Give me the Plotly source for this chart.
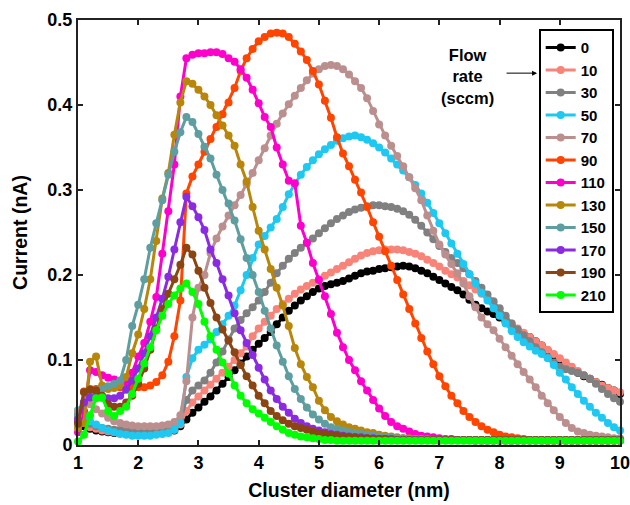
import plotly.graph_objects as go

diameter = [1.0, 1.1, 1.2, 1.3, 1.4, 1.5, 1.6, 1.7, 1.8, 1.9,
            2.0, 2.1, 2.2, 2.3, 2.4, 2.5, 2.6, 2.7, 2.8, 2.9,
            3.0, 3.1, 3.2, 3.3, 3.4, 3.5, 3.6, 3.7, 3.8, 3.9,
            4.0, 4.1, 4.2, 4.3, 4.4, 4.5, 4.6, 4.7, 4.8, 4.9,
            5.0, 5.1, 5.2, 5.3, 5.4, 5.5, 5.6, 5.7, 5.8, 5.9,
            6.0, 6.1, 6.2, 6.3, 6.4, 6.5, 6.6, 6.7, 6.8, 6.9,
            7.0, 7.1, 7.2, 7.3, 7.4, 7.5, 7.6, 7.7, 7.8, 7.9,
            8.0, 8.1, 8.2, 8.3, 8.4, 8.5, 8.6, 8.7, 8.8, 8.9,
            9.0, 9.1, 9.2, 9.3, 9.4, 9.5, 9.6, 9.7, 9.8, 9.9, 10.0]

flow_0 = [0.028, 0.022, 0.019, 0.017, 0.016, 0.015, 0.014, 0.014, 0.013, 0.013,
          0.013, 0.013, 0.013, 0.013, 0.014, 0.015, 0.017, 0.022, 0.030, 0.038,
          0.044, 0.051, 0.057, 0.064, 0.072, 0.080, 0.088, 0.096, 0.104, 0.112,
          0.119, 0.126, 0.133, 0.142, 0.150, 0.158, 0.164, 0.170, 0.175, 0.180,
          0.184, 0.187, 0.189, 0.191, 0.193, 0.196, 0.199, 0.202, 0.204, 0.205,
          0.207, 0.208, 0.209, 0.210, 0.211, 0.210, 0.208, 0.205, 0.202, 0.198,
          0.194, 0.190, 0.186, 0.182, 0.177, 0.171, 0.165, 0.161, 0.157, 0.154,
          0.150, 0.145, 0.140, 0.135, 0.131, 0.127, 0.122, 0.117, 0.111, 0.105,
          0.099, 0.094, 0.089, 0.085, 0.081, 0.078, 0.074, 0.071, 0.067, 0.064, 0.060]

flow_10 = [0.035, 0.026, 0.021, 0.019, 0.017, 0.016, 0.015, 0.014, 0.014, 0.014,
           0.014, 0.014, 0.014, 0.015, 0.015, 0.016, 0.018, 0.024, 0.040, 0.050,
           0.057, 0.064, 0.071, 0.078, 0.085, 0.092, 0.100, 0.108, 0.116, 0.128,
           0.137, 0.145, 0.152, 0.160, 0.166, 0.172, 0.178, 0.183, 0.187, 0.191,
           0.195, 0.199, 0.203, 0.207, 0.211, 0.215, 0.219, 0.223, 0.226, 0.228,
           0.229, 0.230, 0.230, 0.230, 0.229, 0.227, 0.225, 0.222, 0.218, 0.214,
           0.210, 0.205, 0.201, 0.197, 0.193, 0.188, 0.183, 0.178, 0.173, 0.167,
           0.160, 0.151, 0.143, 0.137, 0.132, 0.127, 0.122, 0.117, 0.112, 0.107,
           0.102, 0.097, 0.092, 0.087, 0.082, 0.078, 0.074, 0.070, 0.067, 0.064, 0.062]

flow_30 = [0.035, 0.030, 0.025, 0.022, 0.020, 0.019, 0.018, 0.018, 0.017, 0.017,
           0.017, 0.017, 0.017, 0.018, 0.018, 0.019, 0.021, 0.028, 0.053, 0.064,
           0.070, 0.076, 0.085, 0.097, 0.110, 0.124, 0.137, 0.147, 0.155, 0.162,
           0.170, 0.180, 0.191, 0.202, 0.211, 0.219, 0.226, 0.232, 0.238, 0.243,
           0.249, 0.255, 0.261, 0.266, 0.270, 0.274, 0.277, 0.279, 0.281, 0.282,
           0.282, 0.281, 0.280, 0.278, 0.275, 0.271, 0.265, 0.258, 0.250, 0.242,
           0.234, 0.227, 0.220, 0.214, 0.208, 0.201, 0.193, 0.185, 0.177, 0.169,
           0.161, 0.152, 0.143, 0.136, 0.129, 0.122, 0.115, 0.109, 0.103, 0.097,
           0.092, 0.089, 0.087, 0.085, 0.082, 0.078, 0.072, 0.066, 0.060, 0.055, 0.051]

flow_50 = [0.041, 0.035, 0.028, 0.024, 0.020, 0.017, 0.015, 0.013, 0.012, 0.011,
           0.011, 0.011, 0.011, 0.012, 0.013, 0.014, 0.018, 0.026, 0.080, 0.102,
           0.112, 0.118, 0.124, 0.133, 0.142, 0.152, 0.164, 0.182, 0.200, 0.220,
           0.236, 0.246, 0.256, 0.266, 0.280, 0.295, 0.307, 0.318, 0.327, 0.335,
           0.342, 0.348, 0.353, 0.358, 0.361, 0.363, 0.364, 0.362, 0.359, 0.355,
           0.350, 0.344, 0.337, 0.330, 0.323, 0.315, 0.306, 0.296, 0.285, 0.273,
           0.261, 0.249, 0.237, 0.225, 0.213, 0.201, 0.190, 0.179, 0.170, 0.161,
           0.152, 0.143, 0.134, 0.127, 0.121, 0.116, 0.111, 0.107, 0.102, 0.094,
           0.085, 0.077, 0.068, 0.060, 0.052, 0.045, 0.038, 0.032, 0.026, 0.021, 0.017]

flow_70 = [0.040, 0.050, 0.048, 0.042, 0.037, 0.032, 0.028, 0.026, 0.024, 0.023,
           0.022, 0.022, 0.022, 0.022, 0.023, 0.024, 0.027, 0.035, 0.075, 0.150,
           0.185, 0.200, 0.226, 0.243, 0.257, 0.270, 0.282, 0.294, 0.307, 0.320,
           0.335, 0.349, 0.364, 0.378, 0.390, 0.401, 0.411, 0.420, 0.429, 0.437,
           0.442, 0.446, 0.447, 0.446, 0.442, 0.436, 0.428, 0.420, 0.408, 0.393,
           0.377, 0.364, 0.352, 0.340, 0.328, 0.315, 0.302, 0.288, 0.270, 0.252,
           0.236, 0.224, 0.213, 0.202, 0.190, 0.175, 0.162, 0.150, 0.142, 0.135,
           0.125, 0.115, 0.105, 0.095, 0.086, 0.077, 0.068, 0.058, 0.049, 0.041,
           0.033, 0.026, 0.020, 0.016, 0.014, 0.012, 0.011, 0.010, 0.009, 0.008, 0.008]

flow_90 = [0.030, 0.063, 0.066, 0.066, 0.067, 0.067, 0.068, 0.068, 0.068, 0.068,
           0.068, 0.068, 0.070, 0.074, 0.082, 0.098, 0.128, 0.170, 0.296, 0.316,
           0.330, 0.345, 0.360, 0.374, 0.389, 0.403, 0.420, 0.440, 0.455, 0.466,
           0.475, 0.480, 0.484, 0.485, 0.484, 0.480, 0.472, 0.463, 0.453, 0.440,
           0.424, 0.405, 0.385, 0.362, 0.343, 0.328, 0.312, 0.297, 0.280, 0.262,
           0.245, 0.228, 0.211, 0.194, 0.177, 0.160, 0.143, 0.126, 0.110, 0.095,
           0.081, 0.069, 0.058, 0.049, 0.040, 0.033, 0.027, 0.022, 0.018, 0.015,
           0.012, 0.010, 0.009, 0.008, 0.007, 0.006, 0.006, 0.006, 0.005, 0.005,
           0.005, 0.005, 0.005, 0.005, 0.005, 0.005, 0.005, 0.005, 0.005, 0.005, 0.005]

flow_110 = [0.015, 0.040, 0.088, 0.086, 0.082, 0.079, 0.077, 0.075, 0.074, 0.085,
            0.104, 0.120, 0.145, 0.174, 0.225, 0.275, 0.330, 0.410, 0.455, 0.459,
            0.461, 0.461, 0.462, 0.462, 0.460, 0.455, 0.451, 0.442, 0.432, 0.418,
            0.402, 0.386, 0.374, 0.350, 0.330, 0.311, 0.308, 0.258, 0.238, 0.214,
            0.194, 0.175, 0.154, 0.132, 0.115, 0.100, 0.088, 0.075, 0.064, 0.053,
            0.043, 0.034, 0.027, 0.022, 0.019, 0.016, 0.013, 0.011, 0.010, 0.009,
            0.008, 0.007, 0.007, 0.006, 0.006, 0.006, 0.005, 0.005, 0.005, 0.005,
            0.005, 0.005, 0.005, 0.005, 0.005, 0.005, 0.005, 0.005, 0.005, 0.005,
            0.005, 0.005, 0.005, 0.005, 0.005, 0.005, 0.005, 0.005, 0.005, 0.005, 0.005]

flow_130 = [0.020, 0.026, 0.098, 0.104, 0.070, 0.066, 0.067, 0.070, 0.080, 0.108,
            0.130, 0.160, 0.195, 0.240, 0.290, 0.320, 0.365, 0.403, 0.428, 0.425,
            0.418, 0.410, 0.400, 0.388, 0.376, 0.364, 0.352, 0.330, 0.310, 0.280,
            0.252, 0.230, 0.207, 0.185, 0.164, 0.140, 0.114, 0.095, 0.080, 0.068,
            0.052, 0.041, 0.033, 0.028, 0.024, 0.021, 0.019, 0.017, 0.015, 0.014,
            0.012, 0.011, 0.010, 0.009, 0.008, 0.008, 0.007, 0.007, 0.007, 0.006,
            0.006, 0.006, 0.006, 0.006, 0.006, 0.006, 0.006, 0.006, 0.006, 0.006,
            0.006, 0.006, 0.006, 0.006, 0.006, 0.006, 0.006, 0.006, 0.006, 0.006,
            0.006, 0.006, 0.006, 0.006, 0.006, 0.006, 0.006, 0.006, 0.006, 0.006, 0.006]

flow_150 = [0.035, 0.050, 0.060, 0.064, 0.066, 0.069, 0.072, 0.076, 0.100, 0.140,
            0.165, 0.195, 0.232, 0.261, 0.288, 0.318, 0.345, 0.368, 0.386, 0.380,
            0.366, 0.351, 0.337, 0.318, 0.300, 0.284, 0.264, 0.242, 0.220, 0.200,
            0.180, 0.158, 0.137, 0.117, 0.098, 0.081, 0.066, 0.054, 0.044, 0.036,
            0.030, 0.025, 0.021, 0.019, 0.017, 0.015, 0.014, 0.013, 0.012, 0.011,
            0.010, 0.009, 0.009, 0.008, 0.008, 0.007, 0.007, 0.007, 0.006, 0.006,
            0.006, 0.006, 0.006, 0.006, 0.006, 0.006, 0.006, 0.006, 0.006, 0.006,
            0.006, 0.006, 0.006, 0.006, 0.006, 0.006, 0.006, 0.006, 0.006, 0.006,
            0.006, 0.006, 0.006, 0.006, 0.006, 0.006, 0.006, 0.006, 0.006, 0.006, 0.006]

flow_170 = [0.030, 0.050, 0.056, 0.056, 0.056, 0.055, 0.055, 0.058, 0.065, 0.076,
            0.090, 0.108, 0.128, 0.150, 0.172, 0.198, 0.230, 0.262, 0.292, 0.281,
            0.268, 0.253, 0.230, 0.214, 0.195, 0.176, 0.155, 0.135, 0.120, 0.106,
            0.091, 0.077, 0.064, 0.054, 0.045, 0.038, 0.031, 0.026, 0.022, 0.019,
            0.017, 0.015, 0.013, 0.012, 0.011, 0.010, 0.009, 0.009, 0.008, 0.008,
            0.007, 0.007, 0.007, 0.006, 0.006, 0.006, 0.006, 0.006, 0.006, 0.006,
            0.006, 0.006, 0.006, 0.006, 0.006, 0.006, 0.006, 0.006, 0.006, 0.006,
            0.006, 0.006, 0.006, 0.006, 0.006, 0.006, 0.006, 0.006, 0.006, 0.006,
            0.006, 0.006, 0.006, 0.006, 0.006, 0.006, 0.006, 0.006, 0.006, 0.006, 0.006]

flow_190 = [0.025, 0.062, 0.065, 0.064, 0.058, 0.048, 0.045, 0.045, 0.050, 0.058,
            0.072, 0.090, 0.112, 0.137, 0.160, 0.178, 0.195, 0.212, 0.232, 0.224,
            0.205, 0.185, 0.167, 0.150, 0.136, 0.123, 0.109, 0.094, 0.081, 0.070,
            0.058, 0.049, 0.040, 0.034, 0.029, 0.025, 0.022, 0.020, 0.018, 0.016,
            0.014, 0.013, 0.012, 0.011, 0.010, 0.009, 0.009, 0.008, 0.008, 0.007,
            0.007, 0.007, 0.006, 0.006, 0.006, 0.006, 0.006, 0.006, 0.006, 0.006,
            0.006, 0.006, 0.006, 0.006, 0.006, 0.006, 0.006, 0.006, 0.006, 0.006,
            0.006, 0.006, 0.006, 0.006, 0.006, 0.006, 0.006, 0.006, 0.006, 0.006,
            0.006, 0.006, 0.006, 0.006, 0.006, 0.006, 0.006, 0.006, 0.006, 0.006, 0.006]

flow_210 = [0.004, 0.012, 0.035, 0.055, 0.056, 0.040, 0.034, 0.040, 0.045, 0.060,
            0.078, 0.096, 0.115, 0.135, 0.152, 0.166, 0.176, 0.184, 0.190, 0.180,
            0.166, 0.145, 0.128, 0.112, 0.097, 0.084, 0.070, 0.058, 0.049, 0.042,
            0.037, 0.032, 0.027, 0.022, 0.018, 0.014, 0.012, 0.010, 0.009, 0.008,
            0.007, 0.006, 0.006, 0.005, 0.005, 0.005, 0.005, 0.005, 0.005, 0.005,
            0.005, 0.005, 0.005, 0.005, 0.005, 0.005, 0.005, 0.005, 0.005, 0.005,
            0.005, 0.005, 0.005, 0.005, 0.005, 0.005, 0.005, 0.005, 0.005, 0.005,
            0.005, 0.005, 0.005, 0.005, 0.005, 0.005, 0.005, 0.005, 0.005, 0.005,
            0.005, 0.005, 0.005, 0.005, 0.005, 0.005, 0.005, 0.005, 0.005, 0.005, 0.005]

flow_labels = ["0", "10", "30", "50", "70", "90", "110", "130", "150", "170", "190", "210"]
series = [flow_0, flow_10, flow_30, flow_50, flow_70, flow_90,
          flow_110, flow_130, flow_150, flow_170, flow_190, flow_210]
colors = ["#000000", "#F88379", "#808080", "#1EC8F0", "#BC8F8F", "#FF4500",
          "#FF00CC", "#B8860B", "#5F9EA0", "#8A2BE2", "#8B4513", "#00FF00"]

x_ticks = [1, 2, 3, 4, 5, 6, 7, 8, 9, 10]
y_ticks = [0, 0.1, 0.2, 0.3, 0.4, 0.5]
y_tick_text = ["0", "0.1", "0.2", "0.3", "0.4", "0.5"]

FONT = "Liberation Sans, Arial, sans-serif"

fig = go.Figure()
for name, vals, col in zip(flow_labels, series, colors):
    fig.add_trace(go.Scatter(
        x=diameter, y=vals, name=name, mode="lines+markers",
        line=dict(color=col, width=3),
        marker=dict(color=col, size=8),
        cliponaxis=False,
    ))

axis_common = dict(showline=True, linecolor="#222222", linewidth=2, mirror="ticks",
                   ticks="inside", ticklen=5, tickwidth=1.5, tickcolor="#222222",
                   showgrid=False, zeroline=False, automargin=False,
                   ticklabeloverflow="allow",
                   tickfont=dict(family=FONT, size=18, color="black", weight="bold"))

fig.update_xaxes(range=[1, 10], tickvals=x_ticks,
                 title=dict(text="Cluster diameter (nm)", standoff=12,
                            font=dict(family=FONT, size=19.5, color="black", weight="bold")),
                 **axis_common)
fig.update_yaxes(range=[0, 0.5], tickvals=y_ticks, ticktext=y_tick_text,
                 title=dict(text="Current (nA)", standoff=15,
                            font=dict(family=FONT, size=19.5, color="black", weight="bold")),
                 **axis_common)

fig.update_layout(
    width=630, height=505,
    margin=dict(l=78, r=10, t=20, b=60),
    paper_bgcolor="white", plot_bgcolor="white",
    showlegend=True,
    legend=dict(x=0.850, y=0.978, xanchor="left", yanchor="top",
                bgcolor="white", bordercolor="black", borderwidth=2,
                font=dict(family=FONT, size=15, color="black", weight="bold"),
                tracegroupgap=0, itemwidth=30),
    annotations=[
        dict(text="Flow<br>rate<br>(sccm)", xref="paper", yref="paper",
             x=0.718, y=0.866, xanchor="center", yanchor="middle",
             showarrow=False, align="center",
             font=dict(family=FONT, size=16.5, color="black", weight="bold")),
        dict(text="", xref="paper", yref="paper", x=0.847, y=0.875,
             ax=-32, ay=0, showarrow=True, arrowhead=2, arrowsize=1,
             arrowwidth=1, arrowcolor="black"),
    ],
)

fig.write_html("out.html")
